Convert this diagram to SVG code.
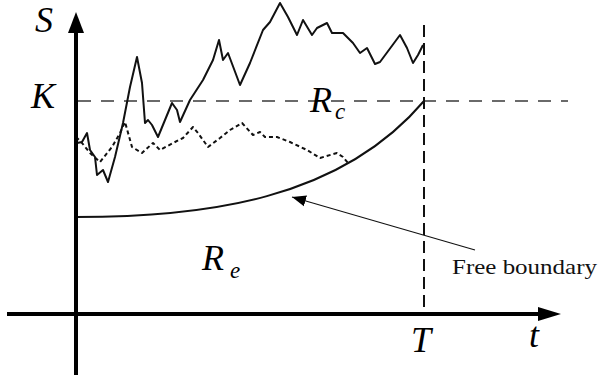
<svg xmlns="http://www.w3.org/2000/svg" width="599" height="378" viewBox="0 0 599 378">
<style>
text{font-family:'Liberation Serif','Times New Roman',serif}
.lbl{font-style:italic;font-size:36px;fill:#000}
.sub{font-style:italic;font-size:23px;fill:#000}
.note{font-size:21px;fill:#111}
.path{fill:none;stroke:#111;stroke-width:2;stroke-linejoin:round}
</style>
<defs>
<marker id="ah" viewBox="0 0 10 10" refX="10" refY="5" markerWidth="14" markerHeight="14" markerUnits="userSpaceOnUse" orient="auto">
<path d="M0,1 L10,5 L0,9 Z" fill="#000"/>
</marker>
</defs>
<rect width="599" height="378" fill="#fff"/>
<g id="connectors">
<line x1="78" y1="101" x2="568" y2="101" stroke="#6a6a6a" stroke-width="2" stroke-dasharray="13 10"/>
<line x1="424" y1="25" x2="424" y2="314" stroke="#111" stroke-width="2" stroke-dasharray="12 6"/>
<path class="path" d="M75,124 L77,143 L82,142 L87,133 L90,150 L95,157 L97,175 L103,170 L108,182 L115,157 L123,123 L130,87 L137,57 L142,83 L145,123 L148,120 L152,125 L158,137 L165,120 L172,103 L177,110 L180,122 L190,100 L203,80 L213,60 L219,40 L223,60 L228,53 L240,85 L250,63 L263,30 L270,22 L280,3 L288,17 L297,35 L303,20 L312,35 L317,28 L327,23 L332,33 L343,33 L353,43 L360,53 L367,48 L375,64 L380,62 L400,35 L407,48 L413,63 L418,55 L423,45"/>
<path class="path" stroke-dasharray="4 3" d="M76,137 L82,143 L90,153 L100,162 L112,147 L120,133 L125,122 L132,147 L142,153 L153,143 L160,150 L173,143 L183,138 L193,127 L198,133 L208,147 L220,138 L230,130 L242,123 L253,135 L260,132 L265,137 L277,137 L290,142 L307,150 L320,158 L337,153 L343,157 L348,163"/>
<path class="path" d="M76,217 C205,217 340,200 424,101"/>
<line x1="475" y1="250" x2="292" y2="197" stroke="#111" stroke-width="1.1" marker-end="url(#ah)"/>
<line x1="76" y1="375" x2="76" y2="30" stroke="#000" stroke-width="4"/>
<path d="M76,12 L68,33 L84,33 Z" fill="#000"/>
<line x1="7" y1="314" x2="540" y2="314" stroke="#000" stroke-width="4"/>
<path d="M561,314 L538,307 L538,321 Z" fill="#000"/>
</g>
<g id="label-S"><text class="lbl" x="35" y="32">S</text></g>
<g id="label-K"><text class="lbl" x="31" y="108">K</text></g>
<g id="label-T"><text class="lbl" x="411" y="352">T</text></g>
<g id="label-t"><text class="lbl" x="529" y="347">t</text></g>
<g id="label-Rc"><text class="lbl" x="310" y="112">R</text><text class="sub" x="335" y="119">c</text></g>
<g id="label-Re"><text class="lbl" x="202" y="270">R</text><text class="sub" x="230" y="278">e</text></g>
<g id="label-free"><text class="note" x="452" y="274" textLength="145" lengthAdjust="spacingAndGlyphs">Free boundary</text></g>
</svg>
